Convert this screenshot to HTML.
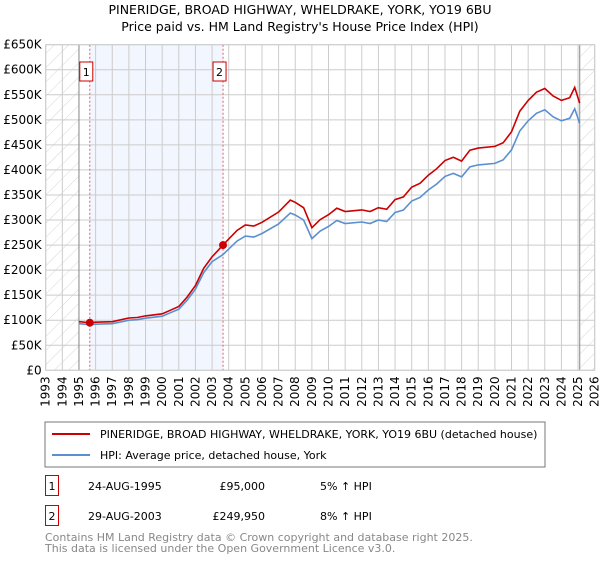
<!DOCTYPE html>
<html><head><meta charset="utf-8"><style>
body{margin:0;background:#fff;font-family:"Liberation Sans","DejaVu Sans",sans-serif;}
svg text{font-family:"DejaVu Sans","Liberation Sans",sans-serif;}
</style></head><body>
<svg id="c" width="600" height="560" xmlns="http://www.w3.org/2000/svg">
<defs><pattern id="hatch" width="10" height="10" patternUnits="userSpaceOnUse" patternTransform="rotate(45)"><line x1="0" y1="0" x2="0" y2="10" stroke="#d6d6d6" stroke-width="1"/></pattern></defs>
<text x="300" y="14" text-anchor="middle" font-size="12.5" fill="#000">PINERIDGE, BROAD HIGHWAY, WHELDRAKE, YORK, YO19 6BU</text>
<text x="300" y="31" text-anchor="middle" font-size="12.5" fill="#000">Price paid vs. HM Land Registry's House Price Index (HPI)</text>
<g id="plot"></g>
<rect x="45" y="422" width="500" height="45" fill="#fff" stroke="#777"/>
<line x1="52" y1="434" x2="90" y2="434" stroke="#cc0000" stroke-width="2"/>
<text x="100" y="438" font-size="11">PINERIDGE, BROAD HIGHWAY, WHELDRAKE, YORK, YO19 6BU (detached house)</text>
<line x1="52" y1="455" x2="90" y2="455" stroke="#5b8fd0" stroke-width="2"/>
<text x="100" y="459" font-size="11">HPI: Average price, detached house, York</text>
<g font-size="11">
<rect x="45.5" y="475.5" width="13" height="20" fill="#fff" stroke="#cc0000"/>
<text x="52" y="490" text-anchor="middle">1</text>
<text x="88" y="490">24-AUG-1995</text>
<text x="265" y="490" text-anchor="end">£95,000</text>
<text x="320" y="490">5% ↑ HPI</text>
<rect x="45.5" y="505.5" width="13" height="20" fill="#fff" stroke="#cc0000"/>
<text x="52" y="520" text-anchor="middle">2</text>
<text x="88" y="520">29-AUG-2003</text>
<text x="265" y="520" text-anchor="end">£249,950</text>
<text x="320" y="520">8% ↑ HPI</text>
</g>
<text x="45" y="541" font-size="11" fill="#888">Contains HM Land Registry data © Crown copyright and database right 2025.</text>
<text x="45" y="552" font-size="11" fill="#888">This data is licensed under the Open Government Licence v3.0.</text>
</svg>
<script>
const hpiYears=[1995,1995.65,1996,1997,1998,1998.5,1999,2000,2000.5,2001,2001.5,2002,2002.5,2003,2003.66,2004,2004.5,2005,2005.5,2006,2007,2007.7,2008,2008.5,2009,2009.5,2010,2010.5,2011,2012,2012.5,2013,2013.5,2014,2014.5,2015,2015.5,2016,2016.5,2017,2017.5,2018,2018.5,2019,2020,2020.5,2021,2021.5,2022,2022.5,2023,2023.5,2024,2024.5,2024.8,2025.1];
const hpiValues=[93,91,92,93,100,101,104,108,115,122,140,162,195,217,231,242,258,268,266,273,292,314,310,300,263,278,287,299,293,296,293,300,297,315,320,338,345,360,372,387,393,386,406,410,413,420,440,478,498,513,520,506,498,503,522,493];
const saleYears=[1995.65,2003.66];
const saleValues=[95,249.95];
const yTicks=[0,50,100,150,200,250,300,350,400,450,500,550,600,650];
const yLabels=["£0","£50K","£100K","£150K","£200K","£250K","£300K","£350K","£400K","£450K","£500K","£550K","£600K","£650K"];
const xTicks=[1993,1994,1995,1996,1997,1998,1999,2000,2001,2002,2003,2004,2005,2006,2007,2008,2009,2010,2011,2012,2013,2014,2015,2016,2017,2018,2019,2020,2021,2022,2023,2024,2025,2026];

const L=45.7,R=594.7,T=44.7,B=370.3;
const X=y=>L+(y-1993)/33*(R-L);
const Y=v=>B-v/650*(B-T);
const NS="http://www.w3.org/2000/svg";
const g=document.getElementById('plot');
function mk(t,a){const e=document.createElementNS(NS,t);for(const k in a)e.setAttribute(k,a[k]);g.appendChild(e);return e;}
function hpiAt(t){for(let i=0;i<hpiYears.length-1;i++){if(t>=hpiYears[i]&&t<=hpiYears[i+1]){const f=(t-hpiYears[i])/(hpiYears[i+1]-hpiYears[i]);return hpiValues[i]+f*(hpiValues[i+1]-hpiValues[i]);}}return hpiValues[hpiValues.length-1];}

let e=mk('rect',{x:L,y:T,width:R-L,height:B-T,fill:'#fff'});
e=mk('rect',{x:X(1993),y:T,width:X(1995)-X(1993),height:B-T,fill:'url(#hatch)'});


e=mk('rect',{x:X(2025.1),y:T,width:R-X(2025.1),height:B-T,fill:'url(#hatch)'});


e=mk('rect',{x:X(saleYears[0]),y:T,width:X(saleYears[1])-X(saleYears[0]),height:B-T,fill:'#f2f6fe'});


yTicks.forEach((v,i)=>{
  const l=mk('line',{x1:L,x2:R,y1:Y(v),y2:Y(v),stroke:'#ccc','stroke-width':1});
  
  
  const t=mk('text',{x:L-4,y:Y(v)+4,'text-anchor':'end','font-size':12});
  t.textContent=yLabels[i];
  
  
});
xTicks.forEach(y=>{
  const l=mk('line',{x1:X(y),x2:X(y),y1:T,y2:B,stroke:'#ccc','stroke-width':1});
  
  
  const t=mk('text',{transform:`translate(${X(y)+4},${B+6}) rotate(-90)`,'text-anchor':'end','font-size':12});
  t.textContent=y;
  
  
});
e=mk('line',{x1:X(1995),x2:X(1995),y1:T,y2:B,stroke:'#888'});
e=mk('line',{x1:X(2025.1),x2:X(2025.1),y1:T,y2:B,stroke:'#888'});
saleYears.forEach((s,i)=>{
  const l=mk('line',{x1:X(s),x2:X(s),y1:T,y2:B,stroke:'#e06060','stroke-dasharray':'2,2'});
  
  
  const b=mk('rect',{x:X(s)-10,y:62,width:13,height:19,fill:'#fff',stroke:'#cc0000'});
  
  
  const t=mk('text',{x:X(s)-3.5,y:76,'text-anchor':'middle','font-size':11});
  t.textContent=String(i+1);
});
let d=hpiYears.map((y,i)=>(i?'L':'M')+X(y).toFixed(1)+','+Y(hpiValues[i]).toFixed(1)).join(' ');
e=mk('path',{d:d,fill:'none',stroke:'#5b8fd0','stroke-width':1.6});


const f1=saleValues[0]/hpiAt(saleYears[0]), f2=saleValues[1]/hpiAt(saleYears[1]);
d=hpiYears.map((y,i)=>{const f=y<saleYears[1]?f1:f2;return (i?'L':'M')+X(y).toFixed(1)+','+Y(hpiValues[i]*f).toFixed(1);}).join(' ');
e=mk('path',{d:d,fill:'none',stroke:'#cc0000','stroke-width':1.6});


saleYears.forEach((s,i)=>{
  const c=mk('circle',{cx:X(s),cy:Y(saleValues[i]),r:4,fill:'#cc0000'});
  
  
});
e=mk('rect',{x:L,y:T,width:R-L,height:B-T,fill:'none',stroke:'#ccc'});
</script>
</body></html>
